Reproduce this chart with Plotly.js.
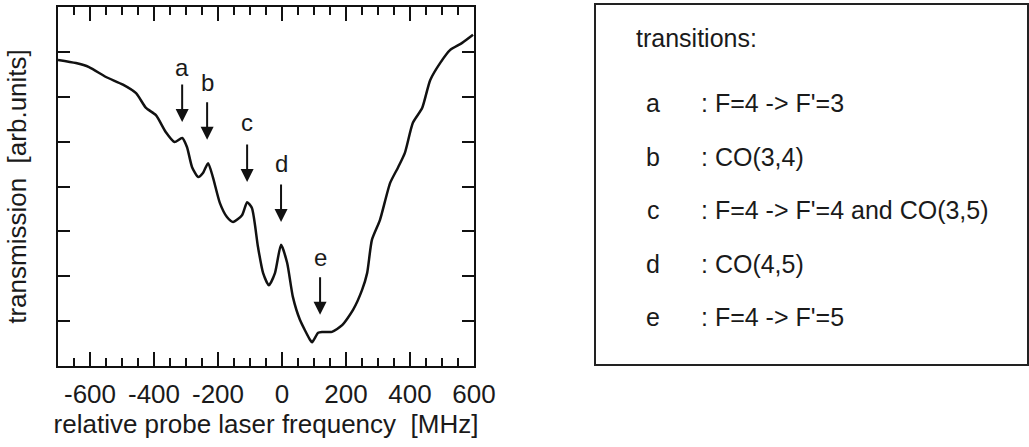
<!DOCTYPE html>
<html>
<head>
<meta charset="utf-8">
<script src="https://cdn.plot.ly/plotly-3.0.1.min.js"></script>
<style>html,body{margin:0;padding:0;background:#fff;}#chart{width:1029px;height:447px;}</style>
</head>
<body>
<div id="chart"></div>
<script>
// ---- data ----
var freqMHz = [-700, -644, -603, -550, -497, -456, -425, -394, -363, -336, -312, -297, -281, -262, -247, -231, -216, -194, -172, -153, -125, -109, -94, -75, -59, -41, -22, -3, 16, 34, 56, 88, 94, 113, 125, 156, 188, 222, 250, 266, 281, 306, 338, 363, 384, 409, 438, 463, 494, 525, 563, 597];
var transmission = [6.82, 6.75, 6.66, 6.44, 6.27, 6.08, 5.75, 5.59, 5.21, 4.99, 5.08, 4.88, 4.43, 4.21, 4.30, 4.52, 4.21, 3.63, 3.32, 3.21, 3.36, 3.65, 3.52, 2.65, 2.07, 1.80, 2.07, 2.70, 2.30, 1.54, 1.03, 0.58, 0.53, 0.74, 0.76, 0.76, 0.91, 1.25, 1.69, 2.07, 2.81, 3.25, 4.08, 4.43, 4.75, 5.42, 5.75, 6.37, 6.75, 7.04, 7.20, 7.38];
var peakLabels = ['a', 'b', 'c', 'd', 'e'];
var peakFreq = [-312, -234, -109, -3, 119];
var arrowTipY = [5.44, 5.04, 4.10, 3.21, 1.14];
var labelY = [6.66, 6.31, 5.42, 4.52, 2.41];
var transitionText = [': F=4 -> F\'=3', ': CO(3,4)', ': F=4 -> F\'=4 and CO(3,5)', ': CO(4,5)', ': F=4 -> F\'=5'];
var xTickVals = [-600, -400, -200, 0, 200, 400, 600];
var xTickText = ['-600', '-400', '-200', '0', '200', '400', '600'];
var yTickVals = [1, 2, 3, 4, 5, 6, 7];

// ---- layout helpers (plot area: x 58..474, y 7..366) ----
var PL = 58, PR = 474, PT = 7, PB = 366;
var X_RANGE = [-700, 600], Y_RANGE = [0, 8], MAJOR = 200, MINOR = 50;
function px2paperX(p) { return (p - PL) / (PR - PL); }
function px2paperY(p) { return (PB - p) / (PB - PT); }

var FONT = '"Liberation Sans", Arial, Helvetica, sans-serif';
var TXT = '#1a1a1a';

var annotations = [];
for (var i = 0; i < peakLabels.length; i++) {
  annotations.push({
    x: peakFreq[i], y: arrowTipY[i], xref: 'x', yref: 'y',
    text: '', showarrow: true, ax: 0, ay: -39,
    arrowhead: 2, arrowsize: 1.3, arrowwidth: 2, arrowcolor: '#111'
  });
  annotations.push({
    x: peakFreq[i], y: labelY[i], xref: 'x', yref: 'y',
    text: peakLabels[i], showarrow: false,
    xanchor: 'center', yanchor: 'middle',
    font: {family: FONT, size: 24, color: TXT}
  });
}
// legend box text
annotations.push({
  x: px2paperX(634), y: px2paperY(38), xref: 'paper', yref: 'paper',
  text: 'transitions:', showarrow: false, xanchor: 'left', yanchor: 'middle',
  font: {family: FONT, size: 25, color: TXT}
});
for (var j = 0; j < peakLabels.length; j++) {
  var rowY = 103 + j * 53.5;
  annotations.push({
    x: px2paperX(653), y: px2paperY(rowY), xref: 'paper', yref: 'paper',
    text: peakLabels[j], showarrow: false, xanchor: 'center', yanchor: 'middle',
    font: {family: FONT, size: 25, color: TXT}
  });
  annotations.push({
    x: px2paperX(699), y: px2paperY(rowY), xref: 'paper', yref: 'paper',
    text: transitionText[j], showarrow: false, xanchor: 'left', yanchor: 'middle',
    font: {family: FONT, size: 25, color: TXT}
  });
}

var shapes = [{
  type: 'rect', xref: 'paper', yref: 'paper',
  x0: px2paperX(595), x1: px2paperX(1028), y0: px2paperY(365), y1: px2paperY(4),
  line: {color: '#222', width: 2}, fillcolor: 'rgba(0,0,0,0)'
}];

// top-frame tick marks (mirror of the bottom major/minor ticks), built from the axis tick spacing
var topTickX = [], topTickY = [];
var yPerPx = (Y_RANGE[1] - Y_RANGE[0]) / (PB - PT);
for (var k = 1; X_RANGE[0] + k * MINOR < X_RANGE[1]; k++) {
  var v = X_RANGE[0] + k * MINOR;
  var len = (Math.abs(v) % MAJOR === 0) ? 14 : 8;
  topTickX.push(v, v, null);
  topTickY.push(Y_RANGE[1], Y_RANGE[1] - len * yPerPx, null);
  shapes.push({
    type: 'line', xref: 'x', yref: 'y', layer: 'above',
    x0: v, x1: v, y0: Y_RANGE[1], y1: Y_RANGE[1] - len * yPerPx,
    line: {color: '#111', width: 2}
  });
}

var trace = {
  x: freqMHz, y: transmission, type: 'scatter', mode: 'lines',
  line: {color: '#111', width: 2.5, shape: 'spline', smoothing: 0.6},
  hoverinfo: 'skip'
};
var topTicks = {
  x: topTickX, y: topTickY, type: 'scatter', mode: 'lines', connectgaps: false,
  line: {color: '#111', width: 2}, hoverinfo: 'skip'
};

var layout = {
  width: 1029, height: 447,
  margin: {l: PL, r: 1029 - PR, t: PT, b: 447 - PB, pad: 0},
  paper_bgcolor: '#fff', plot_bgcolor: '#fff',
  showlegend: false,
  font: {family: FONT, color: TXT},
  xaxis: {
    range: X_RANGE, tickmode: 'array', tickvals: xTickVals, ticktext: xTickText,
    ticks: 'inside', ticklen: 14, tickwidth: 2, tickcolor: '#111',
    minor: {dtick: MINOR, tick0: 0, ticks: 'inside', ticklen: 8, tickwidth: 2, tickcolor: '#111', showgrid: false},
    showline: true, linecolor: '#111', linewidth: 2, mirror: true,
    showgrid: false, zeroline: false,
    ticklabelstandoff: 4,
    tickfont: {family: FONT, size: 26, color: TXT},
    title: {text: 'relative probe laser frequency  [MHz]', font: {family: FONT, size: 26, color: TXT}, standoff: 7}
  },
  yaxis: {
    range: Y_RANGE, tickmode: 'array', tickvals: yTickVals,
    ticks: 'inside', ticklen: 12, tickwidth: 2, tickcolor: '#111',
    showticklabels: false,
    showline: true, linecolor: '#111', linewidth: 2, mirror: 'ticks',
    showgrid: false, zeroline: false,
    title: {text: 'transmission  [arb.units]', font: {family: FONT, size: 26, color: TXT}, standoff: 22}
  },
  shapes: shapes,
  annotations: annotations
};

Plotly.newPlot('chart', [trace, topTicks], layout, {staticPlot: true, displayModeBar: false});
</script>
</body>
</html>
